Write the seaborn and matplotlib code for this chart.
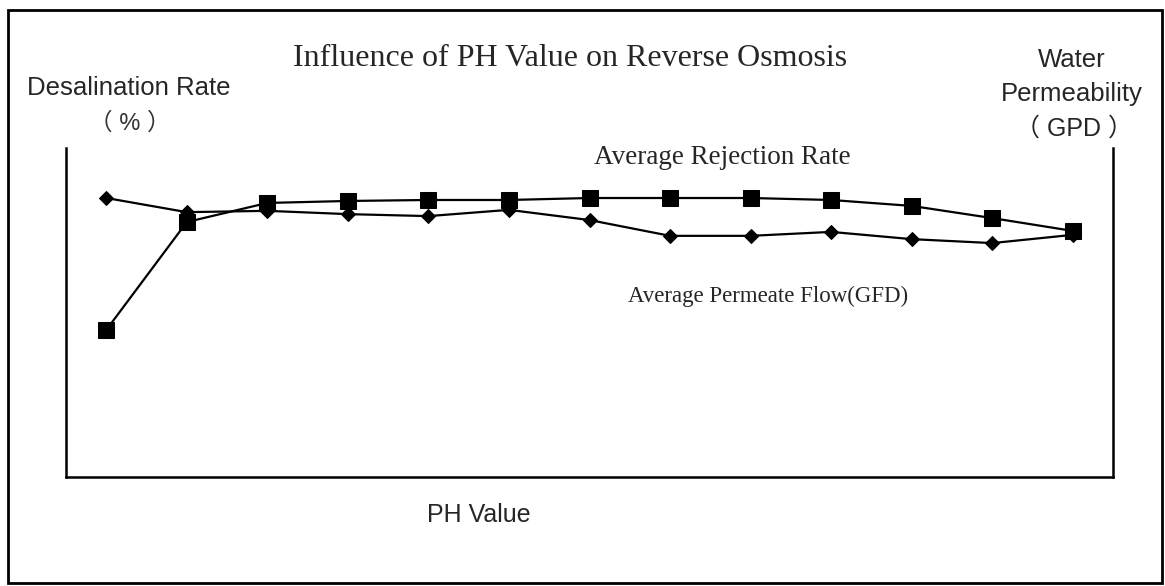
import matplotlib.pyplot as plt
import matplotlib.patches as patches
import numpy as np
import pandas as pd
import seaborn as sns

# PH value positions (no tick labels in the original)
ph = list(range(1, 14))
# relative scale 0-100
rejection_rate = [44.7, 77.5, 83.3, 83.9, 84.2, 84.2, 84.8, 84.8, 84.8, 84.2, 82.4, 78.7, 74.8]
permeate_flow = [84.8, 80.5, 80.9, 79.9, 79.3, 81.2, 78.1, 73.3, 73.3, 74.5, 72.3, 71.1, 73.6]

title = 'Influence of PH Value on Reverse Osmosis'
left_label = 'Desalination Rate'
left_unit = '（ % ）'
right_label = ['Water', 'Permeability', '（ GPD ）']
x_label = 'PH Value'
label_rejection = 'Average Rejection Rate'
label_flow = 'Average Permeate Flow(GFD)'

sns.set_style('white')
plt.rcParams['font.family'] = ['Liberation Sans', 'Noto Sans CJK SC', 'DejaVu Sans']

df = pd.DataFrame({'ph': ph, 'rejection': rejection_rate, 'flow': permeate_flow})

W, H = 1165, 586
fig = plt.figure(figsize=(W / 100, H / 100), dpi=100)
ax = fig.add_axes([66 / W, 1 - 477 / H, (1113 - 66) / W, (477 - 148) / H])

sns.lineplot(data=df, x='ph', y='flow', ax=ax, color='black', lw=1.6,
             marker='D', markersize=7.5, markeredgecolor='black')
sns.lineplot(data=df, x='ph', y='rejection', ax=ax, color='black', lw=1.6,
             marker='s', markersize=11.5, markeredgecolor='black')

ax.set_xlim(0.5, 13.5)
ax.set_ylim(0, 100)
ax.set_xticks([])
ax.set_yticks([])
ax.set_xlabel('')
ax.set_ylabel('')
ax.spines['top'].set_visible(False)
for s in ['left', 'right', 'bottom']:
    ax.spines[s].set_color('black')
    ax.spines[s].set_linewidth(1.8)

# outer frame of the scanned figure
fig.patches.append(patches.Rectangle((8 / W, 3 / H), (1162 - 8) / W, (583 - 10) / H,
                                     transform=fig.transFigure, fill=False,
                                     edgecolor='black', lw=2))


def px(x, y):
    return x / W, 1 - y / H


fig.text(*px(570, 59), title, ha='center', va='center',
         family='Liberation Serif', fontsize=23)
fig.text(*px(129, 88), left_label, ha='center', va='center', fontsize=18.5)
fig.text(*px(130, 124), left_unit, ha='center', va='center', fontsize=17,
         color='#333333')
for txt, yy in zip(right_label[:2], [60, 94]):
    fig.text(*px(1072, yy), txt, ha='center', va='center', fontsize=18.5)
fig.text(*px(1074, 129), right_label[2], ha='center', va='center',
         fontsize=18)
fig.text(*px(722, 157), label_rejection, ha='center', va='center',
         family='Liberation Serif', fontsize=19.5)
fig.text(*px(768, 296), label_flow, ha='center', va='center',
         family='Liberation Serif', fontsize=16.5)
fig.text(*px(479, 515), x_label, ha='center', va='center', fontsize=18)

fig.savefig('out.png', dpi=100)
